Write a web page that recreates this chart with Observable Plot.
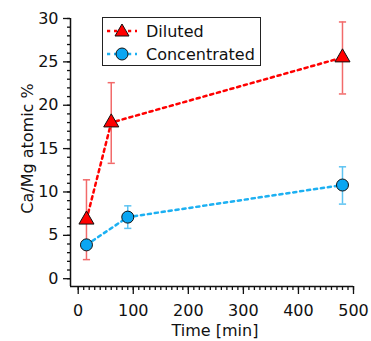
<!DOCTYPE html>
<html>
<head>
<meta charset="utf-8">
<script src="https://cdn.jsdelivr.net/npm/d3@7"></script>
<script src="https://cdn.jsdelivr.net/npm/@observablehq/plot@0.6"></script>
<style>
  html, body { margin: 0; padding: 0; background: #fff; }
  #wrap { position: relative; width: 371px; height: 341px; }
  #legend { position: absolute; left: 102px; top: 17px; width: 157px; height: 47px;
    border: 1.5px solid #222; background: #fff; font-family: "DejaVu Sans", sans-serif; font-size: 16px; color: #111; }
  .row { position: absolute; left: 0; height: 22px; display: flex; align-items: center; }
  .row svg { display: block; }
  .row span { margin-left: 3px; }
</style>
</head>
<body>
<div id="wrap"></div>
<script>
// ---- data ----
const dilutedTime = [15, 60, 480];
const dilutedValue = [6.8, 18.0, 25.5];
const dilutedLow = [2.2, 13.3, 21.3];
const dilutedHigh = [11.4, 22.6, 29.6];

const concTime = [15, 90, 480];
const concValue = [3.9, 7.1, 10.8];
const concLow = [3.9, 5.8, 8.6];
const concHigh = [3.9, 8.4, 12.9];

const seriesNames = ["Diluted", "Concentrated"];
const xMajorTicks = [0, 100, 200, 300, 400, 500];
const xMinorTicks = d3.range(0, 501, 10);
const yMajorTicks = [0, 5, 10, 15, 20, 25, 30];
const yMinorTicks = d3.range(0, 31, 1);
const xLabel = "Time [min]";
const yLabel = "Ca/Mg atomic %";

// ---- build rows ----
const diluted = dilutedTime.map((t, i) => ({t, v: dilutedValue[i], lo: dilutedLow[i], hi: dilutedHigh[i]}));
const conc = concTime.map((t, i) => ({t, v: concValue[i], lo: concLow[i], hi: concHigh[i]}));

const RED = "#ff0000", RED_ERR = "#f26a6a";
const BLUE = "#1cb0f2", BLUE_FILL = "#0aa6f2", BLUE_ERR = "#5cc3f2";
const FONT = "'DejaVu Sans', sans-serif";

const capSymbol = { draw(ctx, size) { const w = Math.sqrt(size / Math.PI); ctx.moveTo(-w, 0); ctx.lineTo(w, 0); } };

const xDom = [-14, 500], yDom = [-0.9, 30];

function errMarks(data, color) {
  return [
    Plot.ruleX(data, {x: "t", y1: "lo", y2: "hi", stroke: color, strokeWidth: 1.5}),
    Plot.dot(data, {x: "t", y: "lo", symbol: capSymbol, r: 3.6, stroke: color, strokeWidth: 1.5}),
    Plot.dot(data, {x: "t", y: "hi", symbol: capSymbol, r: 3.6, stroke: color, strokeWidth: 1.5})
  ];
}

const chart = Plot.plot({
  width: 371, height: 341,
  marginLeft: 70, marginRight: 18, marginTop: 18, marginBottom: 55,
  style: {fontFamily: FONT, fontSize: "16px", color: "#111", background: "#fff"},
  x: {domain: xDom},
  y: {domain: yDom},
  marks: [
    // axis lines
    Plot.ruleX([xDom[0]], {y1: yDom[0], y2: 30, stroke: "#111", strokeWidth: 1.5}),
    Plot.ruleY([yDom[0]], {x1: xDom[0], x2: 500, stroke: "#111", strokeWidth: 1.5}),
    // ticks
    Plot.axisX({ticks: xMinorTicks, tickSize: 4, tickFormat: () => "", label: null, strokeWidth: 1.3}),
    Plot.axisX({ticks: xMajorTicks, tickSize: 8, tickPadding: 10, label: null, strokeWidth: 1.3}),
    Plot.axisY({ticks: yMinorTicks, tickSize: 3, tickFormat: () => "", label: null, strokeWidth: 1.3}),
    Plot.axisY({ticks: yMajorTicks, tickSize: 7, tickPadding: 5, label: null, strokeWidth: 1.3}),
    // axis titles
    Plot.text([xLabel], {frameAnchor: "bottom", lineAnchor: "middle", textAnchor: "middle", dy: 44, dx: 3, fontSize: 16, fontWeight: "normal", fill: "#111"}),
    Plot.text([yLabel], {frameAnchor: "left", lineAnchor: "middle", textAnchor: "middle", rotate: -90, dx: -43, dy: -4, fontSize: 16, fontWeight: "normal", fill: "#111"}),
    // error bars
    ...errMarks(diluted, RED_ERR),
    ...errMarks(conc, BLUE_ERR),
    // lines
    Plot.line(diluted, {x: "t", y: "v", stroke: RED, strokeWidth: 2.5, strokeDasharray: "3.2,3.8"}),
    Plot.line(conc, {x: "t", y: "v", stroke: BLUE, strokeWidth: 2.5, strokeDasharray: "3.2,3.8"}),
    // markers
    Plot.dot(conc, {x: "t", y: "v", r: 6, fill: BLUE_FILL, stroke: "#111", strokeWidth: 1}),
    Plot.dot(diluted, {x: "t", y: "v", symbol: "triangle", r: 5.6, fill: RED, stroke: "#111", strokeWidth: 1})
  ]
});

const wrap = document.getElementById("wrap");
wrap.appendChild(chart);

// legend
const legend = document.createElement("div");
legend.id = "legend";
const legendItems = [
  {name: seriesNames[0], color: RED, marker: "tri"},
  {name: seriesNames[1], color: BLUE, marker: "circ"}
];
legendItems.forEach((it, i) => {
  const row = document.createElement("div");
  row.className = "row";
  row.style.top = (2 + i * 23) + "px";
  const mk = it.marker === "tri"
    ? `<polygon points="19,4 26,16 12,16" fill="${RED}" stroke="#111" stroke-width="1"/>`
    : `<circle cx="19" cy="11" r="6" fill="${BLUE_FILL}" stroke="#111" stroke-width="1"/>`;
  row.innerHTML = `<svg width="40" height="22" viewBox="0 0 40 22">
      <line x1="4" y1="11" x2="34" y2="11" stroke="${it.color}" stroke-width="2.5" stroke-dasharray="3.2,3.8"/>
      ${mk}</svg><span>${it.name}</span>`;
  legend.appendChild(row);
});
wrap.appendChild(legend);
</script>
</body>
</html>
